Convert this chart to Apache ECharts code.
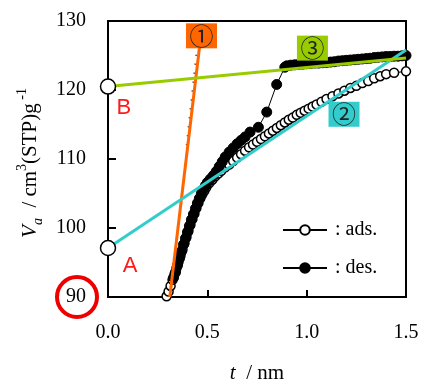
<!DOCTYPE html>
<html>
<head>
<meta charset="utf-8">
<script src="https://cdn.jsdelivr.net/npm/echarts@6/dist/echarts.min.js"></script>
<style>html,body{margin:0;padding:0;background:#fff;}#c{width:423px;height:389px;}</style>
</head>
<body>
<div id="c"></div>
<script>
// ---- data ----
const xTicks = [0.0, 0.5, 1.0, 1.5];
const yTicks = [90, 100, 110, 120, 130];

const adsT = [0.295,0.305,0.315,0.325,0.335,0.345,0.355,0.365,0.375,0.385,0.395,0.405,0.415,0.425,0.435,0.445,0.455,0.465,0.475,0.485,0.495,0.510,0.525,0.540,0.555,0.570,0.590,0.610,0.630,0.650,0.670,0.690,0.710,0.730,0.750,0.770,0.790,0.810,0.830,0.850,0.870,0.890,0.910,0.930,0.950,0.970,0.990,1.010,1.030,1.050,1.075,1.100,1.130,1.160,1.190,1.220,1.250,1.280,1.310,1.340,1.370,1.400,1.440,1.500];
const adsV = [90.1,90.8,91.6,92.5,93.3,94.2,95.1,96.0,96.9,97.8,98.7,99.6,100.5,101.3,102.1,102.9,103.6,104.3,104.9,105.4,105.9,106.5,107.0,107.5,107.9,108.3,108.8,109.2,109.7,110.2,110.7,111.2,111.7,112.1,112.5,112.9,113.3,113.7,114.1,114.5,114.9,115.3,115.7,116.0,116.4,116.7,117.0,117.3,117.6,117.9,118.3,118.7,119.1,119.5,119.9,120.3,120.6,121.0,121.3,121.7,122.0,122.3,122.5,122.7];

const desT = [0.330,0.340,0.350,0.360,0.370,0.380,0.390,0.400,0.410,0.420,0.430,0.440,0.450,0.460,0.470,0.480,0.490,0.500,0.515,0.530,0.545,0.560,0.575,0.590,0.610,0.630,0.650,0.670,0.690,0.715,0.757,0.799,0.849,0.890,0.900,0.920,0.940,0.960,0.980,1.000,1.020,1.040,1.060,1.080,1.100,1.120,1.140,1.160,1.180,1.200,1.220,1.240,1.260,1.280,1.300,1.320,1.340,1.360,1.380,1.400,1.420,1.440,1.460,1.480,1.500];
const desV = [92.8,93.6,94.6,95.6,96.6,97.6,98.5,99.4,100.3,101.2,102.0,102.8,103.6,104.3,105.0,105.6,106.1,106.6,107.1,107.6,108.2,108.9,109.6,110.3,111.0,111.6,112.2,112.7,113.2,113.9,114.6,116.8,120.8,123.3,123.5,123.6,123.65,123.7,123.75,123.8,123.85,123.9,123.9,123.95,124.0,124.05,124.1,124.2,124.25,124.3,124.35,124.4,124.45,124.5,124.55,124.6,124.7,124.75,124.8,124.85,124.85,124.9,124.9,124.95,125.0];

// fitted straight lines (end points)
const line1T = [0.311, 0.468], line1V = [90.0, 128.0];   // ① orange
const line2T = [0.0, 1.5],     line2V = [97.1, 125.8];   // ② cyan
const line3T = [0.0, 1.5],     line3V = [120.5, 124.65]; // ③ green
const dotT = [0.395, 0.462],   dotV = [112.0, 130.0];    // dotted guide

// intercept points and letters
const interT = [0.0, 0.0], interV = [97.1, 120.5];
const letterNames = ['A', 'B'], letterT = [0.111, 0.080], letterV = [94.5, 117.4];

// numbered boxes
const boxNames = ['\u2460', '\u2461', '\u2462'];
const boxT = [0.4706, 1.188, 1.029], boxV = [127.85, 116.48, 126.07];
const boxColors = ['#FF6600', '#33CCCC', '#99CC00'];

const zip = (a, b) => a.map((v, i) => [v, b[i]]);
const serif = 'Liberation Serif, Times New Roman, serif';

const chart = echarts.init(document.getElementById('c'));
const option = {
  animation: false,
  backgroundColor: '#fff',
  grid: { left: 108, top: 21, width: 298, height: 280, show: true, borderColor: '#000', borderWidth: 2, backgroundColor: 'transparent' },
  xAxis: {
    type: 'value', min: 0, max: 1.5, interval: 0.5,
    axisLine: { show: true, lineStyle: { color: '#000', width: 2 } },
    axisTick: { show: true, inside: true, length: 7, lineStyle: { color: '#000', width: 2 } },
    axisLabel: { color: '#000', fontFamily: serif, fontSize: 20, margin: 26, formatter: v => v.toFixed(1) },
    splitLine: { show: false },
    name: '{i|t}{n|  / nm}', nameLocation: 'middle', nameGap: 66,
    nameTextStyle: { rich: { i: { fontFamily: serif, fontSize: 21, fontStyle: 'italic', color: '#000' }, n: { fontFamily: serif, fontSize: 21, color: '#000' } } }
  },
  yAxis: {
    type: 'value', min: 90, max: 130, interval: 10,
    axisLine: { show: true, lineStyle: { color: '#000', width: 2 } },
    axisTick: { show: true, inside: true, length: 8, lineStyle: { color: '#000', width: 2 } },
    axisLabel: { color: '#000', fontFamily: serif, fontSize: 20, margin: 22 },
    splitLine: { show: false },
    name: '{i|V}{sub|a}{n|  / cm}{sup|3}{n|(STP)g}{sup| -1}', nameLocation: 'middle', nameGap: 48, nameRotate: 90,
    nameTextStyle: { padding: [0, 8, 0, 0], rich: {
      i: { fontFamily: serif, fontSize: 21, fontStyle: 'italic', color: '#000', lineHeight: 30 },
      n: { fontFamily: serif, fontSize: 21, color: '#000', lineHeight: 30 },
      sub: { fontFamily: serif, fontSize: 14, fontStyle: 'italic', color: '#000', verticalAlign: 'bottom', lineHeight: 30 },
      sup: { fontFamily: serif, fontSize: 14, color: '#000', verticalAlign: 'top', lineHeight: 30 }
    } }
  },
  legend: {
    orient: 'vertical', left: 277, top: 214, itemWidth: 44, itemHeight: 12, itemGap: 16,
    data: [': ads.', ': des.'],
    textStyle: { fontFamily: serif, fontSize: 20, color: '#000', lineHeight: 22, padding: [0, 0, 0, 3] }
  },
  series: [
    { name: ': ads.', type: 'line', data: zip(adsT, adsV), symbol: 'circle', symbolSize: 9, showAllSymbol: true,
      lineStyle: { color: '#000', width: 1 }, itemStyle: { color: '#fff', borderColor: '#000', borderWidth: 1.5 }, z: 2 },
    { name: ': des.', type: 'line', data: zip(desT, desV), symbol: 'circle', symbolSize: 10, showAllSymbol: true,
      lineStyle: { color: '#000', width: 1 }, itemStyle: { color: '#000', borderColor: '#000', borderWidth: 1 }, z: 3 },
    { name: 'dot', type: 'line', data: zip(dotT, dotV), symbol: 'none', lineStyle: { color: '#000', width: 1.5, type: [1, 8] }, z: 3 },
    { name: 'l1', type: 'line', data: zip(line1T, line1V), symbol: 'none', lineStyle: { color: '#FF6600', width: 3 }, z: 4 },
    { name: 'l2', type: 'line', data: zip(line2T, line2V), symbol: 'none', lineStyle: { color: '#33CCCC', width: 3 }, z: 4 },
    { name: 'l3', type: 'line', data: zip(line3T, line3V), symbol: 'none', lineStyle: { color: '#99CC00', width: 3 }, z: 4 },
    { name: 'inter', type: 'scatter', data: zip(interT, interV), symbol: 'circle', symbolSize: 15, clip: false,
      itemStyle: { color: '#fff', borderColor: '#000', borderWidth: 1.5, opacity: 1 }, z: 5 },
    { name: 'letters', type: 'scatter', symbolSize: 1, clip: false, itemStyle: { color: 'rgba(0,0,0,0)', opacity: 1 }, z: 6,
      data: letterNames.map((n, i) => ({ name: n, value: [letterT[i], letterV[i]] })),
      label: { show: true, position: 'inside', formatter: p => p.name, color: '#FF1A1A', fontFamily: 'Liberation Sans, Arial, sans-serif', fontSize: 22 } },
    { name: 'boxes', type: 'scatter', symbolSize: 1, clip: false, itemStyle: { color: 'rgba(0,0,0,0)', opacity: 1 }, z: 7,
      data: boxNames.map((n, i) => ({ name: n, value: [boxT[i], boxV[i]],
        label: { backgroundColor: boxColors[i] } })),
      label: { show: true, position: 'inside', formatter: p => p.name, color: '#222', fontFamily: 'Noto Sans CJK JP, DejaVu Sans, sans-serif',
        fontSize: 24, width: 31, height: 25, lineHeight: 25, align: 'center', verticalAlign: 'middle' } }
  ]
};
chart.setOption(option);
const p90 = chart.convertToPixel({ gridIndex: 0 }, [0, 90]);
chart.setOption({ graphic: [{ type: 'circle', shape: { cx: p90[0] - 31, cy: p90[1], r: 20 }, style: { fill: 'none', stroke: '#EE0000', lineWidth: 4 }, z: 10 }] });
</script>
</body>
</html>
